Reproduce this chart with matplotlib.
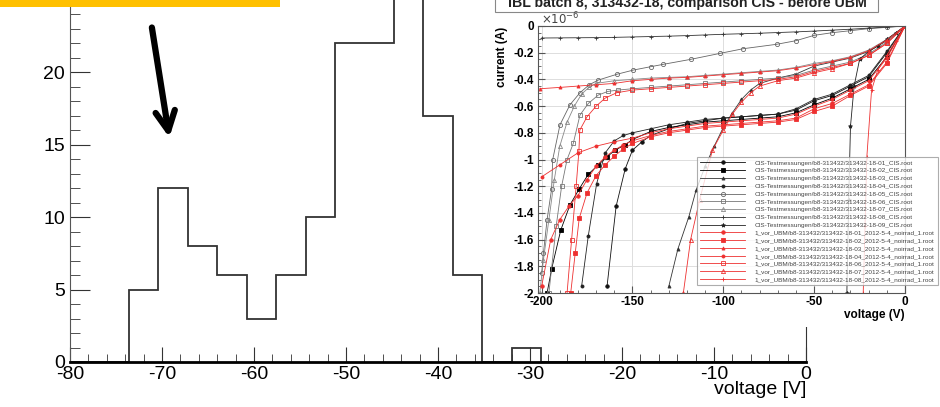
import matplotlib
matplotlib.use("Agg")
import matplotlib.pyplot as plt
import matplotlib.ticker as ticker
from matplotlib.patches import Rectangle
import numpy as np

plt.rcParams['font.family'] = ['Liberation Sans', 'DejaVu Sans']
plt.rcParams['axes.unicode_minus'] = False

# main histogram: breakdown voltage distribution
bin_edges = np.linspace(-80, 0, 26)
counts = [0, 0, 5, 12, 8, 6, 3, 6, 10, 22, 22, 30, 17, 6, 0, 1,
          0, 0, 0, 0, 0, 0, 0, 0, 0]

# inset: IV curves (voltage in V, current in 1e-6 A)
v_k01 = [-164, -159, -154, -150, -145, -140, -130, -120, -110, -100, -90, -80, -70, -60, -50, -40, -30, -20, -10, 0]
i_k01 = [-1.95, -1.35, -1.07, -0.93, -0.87, -0.82, -0.77, -0.73, -0.71, -0.69, -0.68, -0.67, -0.66, -0.63, -0.56, -0.52, -0.45, -0.38, -0.20, 0]
v_k02 = [-197, -194.5, -189.5, -184.4, -179.3, -174.3, -168.8, -164, -159.6, -154, -150, -140, -130, -120, -110, -100, -90, -80, -70, -60, -50, -40, -30, -20, -10, 0]
i_k02 = [-2.0, -1.82, -1.53, -1.34, -1.22, -1.11, -1.04, -0.98, -0.93, -0.89, -0.85, -0.79, -0.76, -0.74, -0.72, -0.71, -0.70, -0.69, -0.68, -0.65, -0.59, -0.54, -0.47, -0.40, -0.23, 0]
v_k03 = [-130, -125, -119, -115, -110, -105, -100, -95, -90, -85, -80, -70, -60, -50, -40, -30, -20, -10, 0]
i_k03 = [-1.95, -1.67, -1.43, -1.23, -1.05, -0.90, -0.76, -0.65, -0.55, -0.48, -0.43, -0.39, -0.36, -0.30, -0.27, -0.24, -0.19, -0.11, 0]
v_k04 = [-178, -174.3, -169.7, -165, -160, -155, -150, -140, -130, -120, -110, -100, -90, -80, -70, -60, -50, -40, -30, -20, -10, 0]
i_k04 = [-1.95, -1.57, -1.18, -0.95, -0.86, -0.82, -0.80, -0.77, -0.74, -0.72, -0.70, -0.69, -0.68, -0.67, -0.66, -0.62, -0.55, -0.51, -0.44, -0.37, -0.19, 0]
v_k05 = [-200, -199, -197, -194.5, -193.9, -189.9, -184.4, -178.9, -173.8, -168.8, -158.7, -149.5, -140, -133, -118, -101.8, -89, -70.6, -60, -50, -40, -30, -20, -10, 0]
i_k05 = [-1.85, -1.70, -1.45, -1.22, -1.00, -0.74, -0.59, -0.50, -0.44, -0.405, -0.362, -0.33, -0.305, -0.287, -0.25, -0.205, -0.17, -0.137, -0.11, -0.07, -0.05, -0.035, -0.02, -0.01, 0]
v_k06 = [-196, -192, -189, -186, -182.6, -178.9, -174.3, -168.8, -163.5, -158, -150, -140, -130, -120, -110, -100, -90, -80, -70, -60, -50, -40, -30, -20, -10, 0]
i_k06 = [-2.0, -1.5, -1.2, -1.0, -0.88, -0.667, -0.58, -0.517, -0.49, -0.48, -0.47, -0.46, -0.45, -0.44, -0.43, -0.42, -0.41, -0.40, -0.39, -0.37, -0.33, -0.30, -0.27, -0.21, -0.12, 0]
v_k07 = [-201, -199, -196, -193, -190, -186, -182, -178, -174, -170, -160, -150, -140, -130, -120, -110, -100, -90, -80, -70, -60, -50, -40, -30, -20, -10, 0]
i_k07 = [-2.0, -1.75, -1.45, -1.15, -0.90, -0.72, -0.60, -0.51, -0.46, -0.43, -0.41, -0.40, -0.39, -0.385, -0.38, -0.37, -0.36, -0.35, -0.34, -0.33, -0.31, -0.28, -0.26, -0.23, -0.18, -0.10, 0]
v_k08 = [-200, -190, -180, -170, -160, -150, -140, -130, -120, -110, -100, -90, -80, -70, -60, -50, -40, -30, -20, -10, 0]
i_k08 = [-0.090, -0.089, -0.088, -0.087, -0.085, -0.082, -0.079, -0.076, -0.072, -0.067, -0.062, -0.058, -0.054, -0.049, -0.044, -0.038, -0.031, -0.024, -0.016, -0.008, 0]
v_k09 = [0, -5, -10, -15, -20, -25, -28, -30, -31, -32]
i_k09 = [0, -0.05, -0.10, -0.15, -0.19, -0.25, -0.45, -0.75, -1.3, -2.0]

v_r01 = [-200, -195, -190, -185, -180, -175, -170, -165, -160, -155, -150, -140, -130, -120, -110, -100, -90, -80, -70, -60, -50, -40, -30, -20, -10, 0]
i_r01 = [-1.95, -1.60, -1.45, -1.35, -1.27, -1.15, -1.05, -0.98, -0.93, -0.89, -0.86, -0.82, -0.79, -0.77, -0.75, -0.74, -0.73, -0.72, -0.71, -0.69, -0.62, -0.58, -0.51, -0.44, -0.27, 0]
v_r02 = [-184, -181.5, -179.3, -175, -170, -165, -160, -155, -150, -140, -130, -120, -110, -100, -90, -80, -70, -60, -50, -40, -30, -20, -10, 0]
i_r02 = [-2.0, -1.7, -1.44, -1.25, -1.12, -1.04, -0.975, -0.92, -0.88, -0.83, -0.80, -0.78, -0.76, -0.75, -0.74, -0.73, -0.72, -0.70, -0.64, -0.60, -0.52, -0.45, -0.28, 0]
v_r03 = [-201, -190, -180, -170, -160, -150, -140, -130, -120, -110, -100, -90, -80, -70, -60, -50, -40, -30, -20, -10, 0]
i_r03 = [-0.47, -0.46, -0.45, -0.44, -0.43, -0.41, -0.40, -0.39, -0.385, -0.375, -0.365, -0.355, -0.345, -0.335, -0.315, -0.29, -0.265, -0.235, -0.185, -0.105, 0]
v_r04 = [-200, -190, -180, -170, -160, -150, -140, -130, -120, -110, -100, -90, -80, -70, -60, -50, -40, -30, -20, -10, 0]
i_r04 = [-1.13, -1.04, -0.95, -0.90, -0.867, -0.84, -0.80, -0.77, -0.75, -0.73, -0.72, -0.71, -0.70, -0.69, -0.66, -0.60, -0.55, -0.48, -0.41, -0.24, 0]
v_r06 = [-186, -183.5, -181, -179.5, -179, -175, -170, -165, -158.7, -150, -140, -130, -120, -110, -100, -90, -80, -70, -60, -50, -40, -30, -20, -10, 0]
i_r06 = [-2.0, -1.6, -1.2, -0.94, -0.78, -0.68, -0.60, -0.54, -0.50, -0.48, -0.47, -0.46, -0.45, -0.44, -0.43, -0.42, -0.41, -0.40, -0.38, -0.34, -0.31, -0.28, -0.22, -0.13, 0]
v_r07 = [-122, -118, -113, -106, -100, -95, -90, -85, -80, -70, -60, -50, -40, -30, -20, -10, 0]
i_r07 = [-2.0, -1.6, -1.3, -0.93, -0.78, -0.66, -0.57, -0.50, -0.45, -0.41, -0.39, -0.35, -0.32, -0.28, -0.22, -0.13, 0]
v_r08 = [0, -5, -10, -15, -18.4, -21, -22, -23]
i_r08 = [0, -0.11, -0.22, -0.33, -0.48, -0.98, -1.5, -2.0]

cis_ids = ['01', '02', '03', '04', '05', '06', '07', '08', '09']
vor_ids = ['01', '02', '03', '04', '06', '07', '08']

fig = plt.figure(figsize=(9.4, 4.07), dpi=100)
W, H = 940.0, 407.0

# ---- main histogram
ax = fig.add_axes([70 / W, 1 - 362 / H, 736 / W, 362 / H])
ax.stairs(counts, bin_edges, color='#333333', linewidth=1.3)
ax.set_xlim(-80, 0)
ax.set_ylim(0, 25)
ax.spines['top'].set_visible(False)
ax.spines['left'].set_color('#555555')
ax.spines['right'].set_color('#333333')
ax.spines['bottom'].set_linewidth(2)
ax.xaxis.set_major_locator(ticker.MultipleLocator(10))
ax.xaxis.set_minor_locator(ticker.MultipleLocator(2))
ax.yaxis.set_major_locator(ticker.MultipleLocator(5))
ax.yaxis.set_minor_locator(ticker.MultipleLocator(1))
ax.tick_params(axis='both', which='both', direction='in', right=False, top=False,
               labelsize=14, color='#333333')
ax.tick_params(axis='y', which='major', length=14.4, pad=3.5)
ax.tick_params(axis='y', which='minor', length=7.2)
ax.tick_params(axis='x', which='major', length=10.8, pad=3)
ax.tick_params(axis='x', which='minor', length=5.8)
fig.text(806 / W, 1 - 389 / H, "voltage [V]", ha='right', va='center', fontsize=14)

ax.annotate("", xy=(-69.2, 15.5), xytext=(-71.1, 23.1),
            arrowprops=dict(arrowstyle='->,head_length=1.4,head_width=0.7',
                            color='black', linewidth=4.5, shrinkA=0, shrinkB=0,
                            mutation_scale=10))

# ---- inset (copy of IV comparison plot)
fig.patches.append(Rectangle((484 / W, 1 - 327 / H), 456 / W, 327 / H,
                             transform=fig.transFigure, facecolor='white',
                             edgecolor='none', zorder=1))
fig.patches.append(Rectangle((495 / W, 1 - 12 / H), 383 / W, 30 / H,
                             transform=fig.transFigure, facecolor='white',
                             edgecolor='#888888', linewidth=0.8, zorder=2.5))
fig.text(687 / W, 1 - 7 / H, "IBL batch 8, 313432-18, comparison CIS - before UBM",
         ha='center', va='baseline', fontsize=10.2, fontweight='bold', color='#222222', zorder=3)

ax2 = fig.add_axes([538 / W, 1 - 293 / H, 367 / W, 267 / H], zorder=2)
black = [
    (v_k01, i_k01, '#111111', 'o', 2.5, 'full'),
    (v_k02, i_k02, '#000000', 's', 3.0, 'full'),
    (v_k03, i_k03, '#333333', '^', 2.2, 'full'),
    (v_k04, i_k04, '#222222', 'o', 2.2, 'full'),
    (v_k05, i_k05, '#666666', 'o', 3.0, 'none'),
    (v_k06, i_k06, '#777777', 's', 3.0, 'none'),
    (v_k07, i_k07, '#888888', '^', 3.0, 'none'),
    (v_k08, i_k08, '#333333', '+', 3.0, 'full'),
    (v_k09, i_k09, '#222222', '*', 3.0, 'full'),
]
red = [
    (v_r01, i_r01, 'o', 2.5, 'full'),
    (v_r02, i_r02, 's', 3.0, 'full'),
    (v_r03, i_r03, '^', 2.2, 'full'),
    (v_r04, i_r04, 'o', 2.2, 'full'),
    (v_r06, i_r06, 's', 3.0, 'none'),
    (v_r07, i_r07, '^', 3.0, 'none'),
    (v_r08, i_r08, '+', 3.0, 'full'),
]
for (v, cur, col, mk, ms, fill), cid in zip(black, cis_ids):
    ax2.plot(v, cur, color=col, linewidth=0.6, marker=mk, markersize=ms,
             fillstyle=fill, markeredgewidth=0.6,
             label="CIS-Testmessungen/b8-313432/313432-18-{}_CIS.root".format(cid))
for (v, cur, mk, ms, fill), rid in zip(red, vor_ids):
    ax2.plot(v, cur, color='#ee3030', linewidth=0.6, marker=mk, markersize=ms,
             fillstyle=fill, markeredgewidth=0.6,
             label="1_vor_UBM/b8-313432/313432-18-{}_2012-5-4_noirrad_1.root".format(rid))

ax2.set_xlim(-202, 0)
ax2.set_ylim(-2, 0)
ax2.xaxis.set_major_locator(ticker.MultipleLocator(50))
ax2.xaxis.set_minor_locator(ticker.MultipleLocator(10))
ax2.yaxis.set_major_locator(ticker.MultipleLocator(0.2))
ax2.yaxis.set_minor_locator(ticker.MultipleLocator(0.05))
ax2.yaxis.set_major_formatter(ticker.FuncFormatter(lambda y, p: "{:g}".format(round(y, 1))))
ax2.grid(True, which='major', color='#dddddd', linewidth=0.7, linestyle='-')
ax2.set_axisbelow(True)
ax2.tick_params(axis='both', which='both', direction='in', labelsize=8.5, color='#555555')
ax2.tick_params(axis='both', which='major', length=5)
ax2.tick_params(axis='both', which='minor', length=2.5)
ax2.tick_params(axis='x', pad=2)
ax2.tick_params(axis='y', pad=3)
for lab in ax2.get_xticklabels() + ax2.get_yticklabels():
    lab.set_fontweight('bold')
for s in ax2.spines.values():
    s.set_color('#555555')
    s.set_linewidth(0.8)
fig.text(541 / W, 1 - 24 / H, r"$\times10^{-6}$", fontsize=8.5, color='#444444', zorder=3)
fig.text(502 / W, 1 - 57 / H, "current (A)", rotation=90, ha='center', va='center',
         fontsize=8.5, fontweight='bold', zorder=3)
fig.text(905 / W, 1 - 315 / H, "voltage (V)", ha='right', va='center',
         fontsize=8.5, fontweight='bold', zorder=3)

leg = ax2.legend(loc='upper left', bbox_to_anchor=(697 / W, 1 - 157 / H),
                 bbox_transform=fig.transFigure, fontsize=4.6, frameon=True,
                 fancybox=False, borderpad=0.5, labelspacing=0.36,
                 handlelength=7, handletextpad=1.5, borderaxespad=0)
leg.get_frame().set_edgecolor('#999999')
leg.get_frame().set_linewidth(0.8)
for t in leg.get_texts():
    t.set_color('#444444')

# yellow highlight bar at the top
fig.patches.append(Rectangle((0, 1 - 7 / H), 280 / W, 7 / H, transform=fig.transFigure,
                             facecolor='#ffc000', edgecolor='none', zorder=5))

fig.savefig("out.png", dpi=100)
